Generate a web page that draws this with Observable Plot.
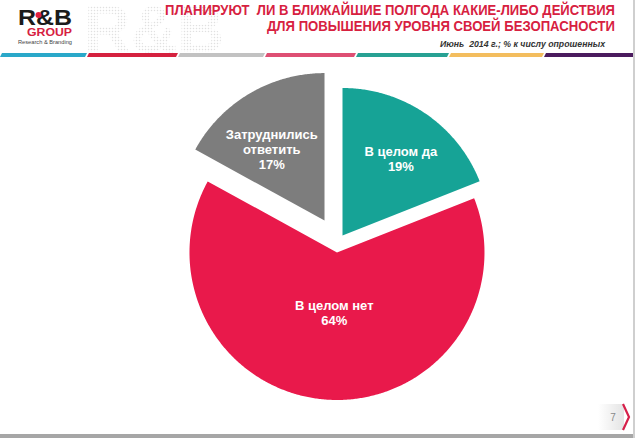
<!DOCTYPE html>
<html><head><meta charset="utf-8">
<script src="https://cdn.jsdelivr.net/npm/d3@7"></script>
<script src="https://cdn.jsdelivr.net/npm/@observablehq/plot@0.6"></script>
<style>
html,body{margin:0;padding:0;background:#fff;}
#page{position:relative;width:635px;height:438px;overflow:hidden;background:#fff;font-family:"Liberation Sans",Arial,sans-serif;}
#header{position:absolute;left:0;top:0;}
#header text{white-space:pre;}
#chart{position:absolute;left:0;top:62px;}
#footer{position:absolute;left:0;top:0;pointer-events:none;}
</style></head>
<body>
<div id="page">
<svg id="header" width="635" height="62"></svg>
<div id="chart"></div>
<svg id="footer" width="635" height="438"></svg>
</div>
<script>
// ---- data ----
const categories = ["В целом да", "В целом нет", "Затруднились ответить"];
const values = [19, 64, 17];
const labelTexts = ["В целом да\n19%", "В целом нет\n64%", "Затруднились\nответить\n17%"];
const titleLines = ["ПЛАНИРУЮТ  ЛИ В БЛИЖАЙШИЕ ПОЛГОДА КАКИЕ-ЛИБО ДЕЙСТВИЯ", "ДЛЯ ПОВЫШЕНИЯ УРОВНЯ СВОЕЙ БЕЗОПАСНОСТИ"];
const subtitle = "Июнь  2014 г.; % к числу опрошенных";
const logoMain = "R&B";
const logoGroup = "GROUP";
const logoTagline = "Research & Branding";
const pageNumber = "7";

// ---- style ----
const sliceColors = ["#16a396", "#e9194b", "#7d7d7d"];
const explode = [8.7, 9.8, 25.7];
const labelRadius = [0.655, 0.41, 0.60];
const labelShiftDeg = [3, -1, -6];
const cx = 337.1, cy = 180.2, R = 147.5;

// ---- header ----
const ns = "http://www.w3.org/2000/svg";
function el(parent, tag, attrs, text) {
  const e = document.createElementNS(ns, tag);
  for (const k in attrs) e.setAttribute(k, attrs[k]);
  if (text != null) e.textContent = text;
  parent.appendChild(e);
  return e;
}
const H = document.getElementById("header");
const defs = el(H, "defs", {});
const pat = el(defs, "pattern", {id: "dots", width: 3, height: 3, patternUnits: "userSpaceOnUse"});
el(pat, "circle", {cx: 1.5, cy: 1.5, r: 0.75, fill: "#d9d9d9"});
el(H, "text", {x: 84, y: 52, "font-size": 66, "font-weight": "bold", fill: "url(#dots)", "font-family": "Liberation Sans, Arial, sans-serif", textLength: 140, lengthAdjust: "spacingAndGlyphs", opacity: 0.8}, logoMain);
// logo
el(H, "text", {x: 18, y: 25, "font-size": 22, "font-weight": "bold", fill: "#1b1b1b", "font-family": "Liberation Sans, Arial, sans-serif", textLength: 54, lengthAdjust: "spacingAndGlyphs"}, logoMain);
el(H, "circle", {cx: 38.5, cy: 15, r: 3, fill: "#e0203f"});
el(H, "text", {x: 27, y: 36, "font-size": 10.5, "font-weight": "bold", fill: "#d6203f", "font-family": "Liberation Sans, Arial, sans-serif", textLength: 45, lengthAdjust: "spacingAndGlyphs"}, logoGroup);
el(H, "text", {x: 18, y: 44, "font-size": 5.5, fill: "#444", "font-family": "Liberation Sans, Arial, sans-serif", textLength: 54, lengthAdjust: "spacingAndGlyphs"}, logoTagline);
// title
el(H, "text", {x: 615, y: 15, "text-anchor": "end", "font-size": 15.5, "font-weight": "bold", fill: "#d7213f", "font-family": "Liberation Sans, Arial, sans-serif", textLength: 450, lengthAdjust: "spacingAndGlyphs"}, titleLines[0]);
el(H, "text", {x: 615, y: 31, "text-anchor": "end", "font-size": 15.5, "font-weight": "bold", fill: "#d7213f", "font-family": "Liberation Sans, Arial, sans-serif", textLength: 348, lengthAdjust: "spacingAndGlyphs"}, titleLines[1]);
el(H, "text", {x: 605, y: 46.5, "text-anchor": "end", "font-size": 9, "font-weight": "bold", "font-style": "italic", fill: "#333", "font-family": "Liberation Sans, Arial, sans-serif", textLength: 165, lengthAdjust: "spacingAndGlyphs"}, subtitle);
// stripes
const stripes = [[0,85,"#2aa8c9"],[87,176,"#d5213f"],[178,263,"#c2c2c2"],[265,354,"#de4f73"],[356,447,"#27a193"],[449,542,"#f3bd5e"],[544,635,"#4b1b5e"]];
for (const [a,b,c] of stripes) {
  el(H, "polygon", {points: `${a+2},53 ${b+2},53 ${b},57 ${a},57`, fill: c});
}

// ---- pie via Plot ----
const arcs = d3.pie().sort(null).value(d => d)(values);
const polyPts = [];
const labelData = [];
arcs.forEach((a, i) => {
  const mid = (a.startAngle + a.endAngle) / 2;
  const ox = cx + explode[i] * Math.sin(mid), oy = cy - explode[i] * Math.cos(mid);
  const cat = categories[i];
  polyPts.push({x: ox, y: oy, cat});
  const n = Math.max(2, Math.ceil((a.endAngle - a.startAngle) / (Math.PI / 360)));
  for (let k = 0; k <= n; k++) {
    const t = a.startAngle + (a.endAngle - a.startAngle) * k / n;
    polyPts.push({x: ox + R * Math.sin(t), y: oy - R * Math.cos(t), cat});
  }
  const la = mid + labelShiftDeg[i] * Math.PI / 180;
  labelData.push({x: ox + labelRadius[i] * R * Math.sin(la), y: oy - labelRadius[i] * R * Math.cos(la), text: labelTexts[i]});
});

const chart = Plot.plot({
  width: 635, height: 376, margin: 0,
  x: {type: "identity", axis: null},
  y: {type: "identity", axis: null},
  color: {domain: categories, range: sliceColors},
  style: {background: "transparent", fontFamily: "Liberation Sans, Arial, sans-serif"},
  marks: [
    Plot.line(polyPts, {x: "x", y: "y", z: "cat", fill: "cat", stroke: "none", curve: "linear-closed"}),
    Plot.text(labelData, {x: "x", y: "y", text: "text", fill: "white", fontWeight: "bold", fontSize: 13, lineHeight: 1.15})
  ]
});
document.getElementById("chart").appendChild(chart);

// ---- footer ----
const F = document.getElementById("footer");
const fdefs = el(F, "defs", {});
const g = el(fdefs, "linearGradient", {id: "pg", x1: 0, x2: 1, y1: 0, y2: 0});
el(g, "stop", {offset: "0", "stop-color": "#ffffff"});
el(g, "stop", {offset: "1", "stop-color": "#e4e4e4"});
el(F, "rect", {x: 598, y: 404, width: 26, height: 26, fill: "url(#pg)"});
el(F, "text", {x: 613, y: 421, "text-anchor": "middle", "font-size": 10, fill: "#8a8a8a", "font-family": "Liberation Sans, Arial, sans-serif"}, pageNumber);
el(F, "polyline", {points: "623,404 629,417 623,430", fill: "none", stroke: "#d6204a", "stroke-width": 2.2});
el(F, "rect", {x: 0, y: 434, width: 635, height: 4, fill: "#a6a6a6"});
el(F, "rect", {x: 633, y: 0, width: 2, height: 438, fill: "#cfcfcf"});
</script>
</body></html>
